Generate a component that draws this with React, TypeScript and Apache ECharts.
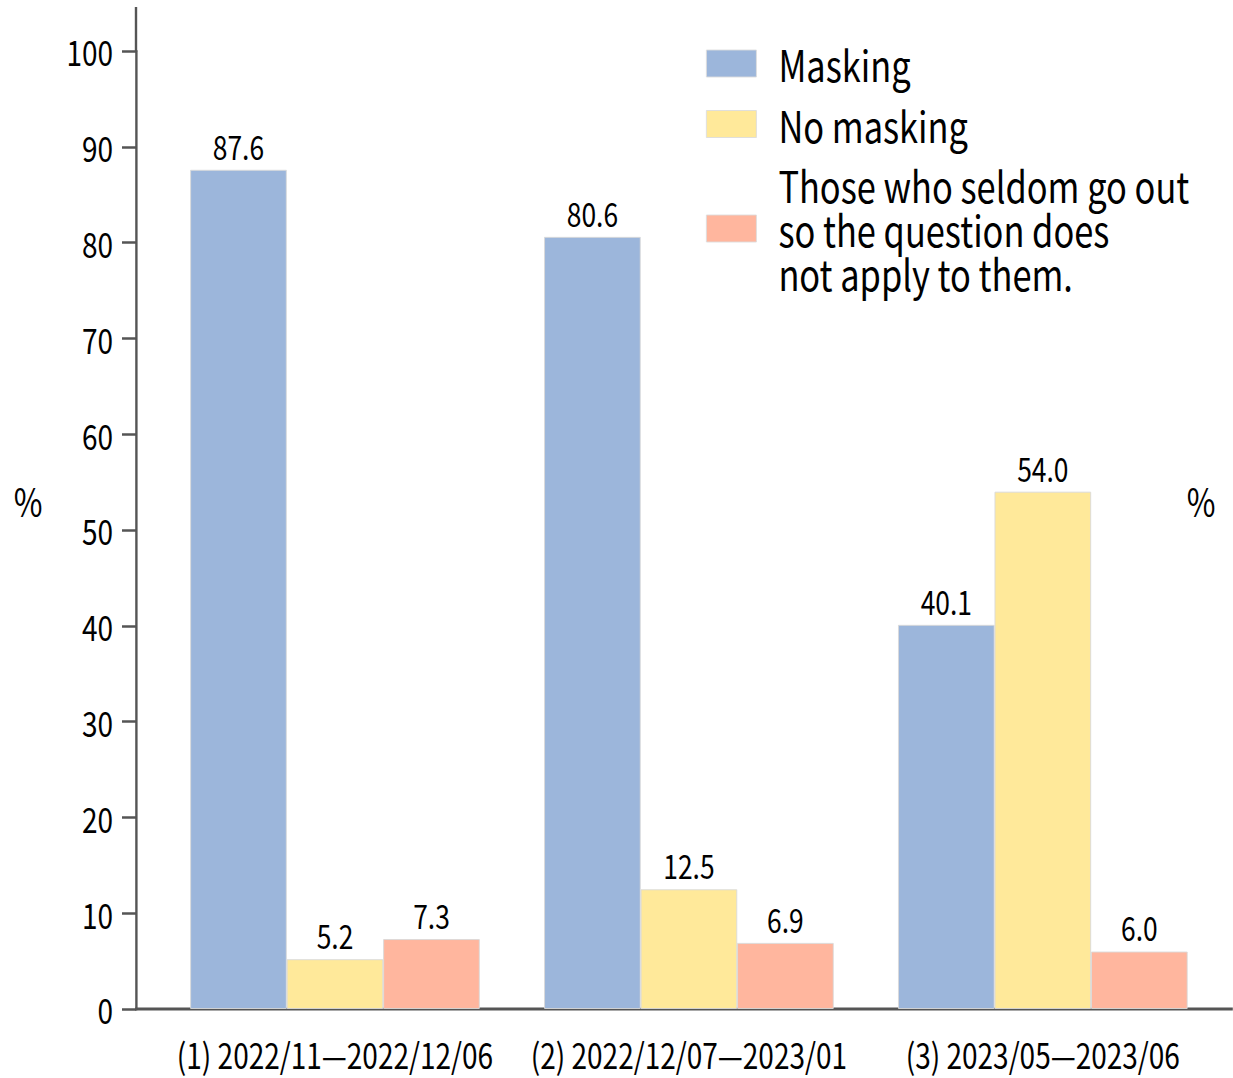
import React, { useEffect, useRef } from "react";
import * as echarts from "echarts";

const categories = ["(1) 2022/11—2022/12/06", "(2) 2022/12/07—2023/01", "(3) 2023/05—2023/06"];
const seriesNames = ["Masking", "No masking", "Those who seldom go out\nso the question does\nnot apply to them."];
const masking = [87.6, 80.6, 40.1];
const noMasking = [5.2, 12.5, 54.0];
const seldomOut = [7.3, 6.9, 6.0];
const colors = ["#9cb6db", "#ffe99a", "#ffb69e"];
const yTicks = [0, 10, 20, 30, 40, 50, 60, 70, 80, 90, 100];

const FONT = "Noto Sans CJK JP";
const S = 0.8; // horizontal condensation of the whole picture
const W = 1233;
const H = 1078;
const X = (v: number) => v / S;

export default function App() {
  const ref = useRef<HTMLDivElement>(null);
  useEffect(() => {
    document.body.style.margin = "0";
    const chart = echarts.init(ref.current!, null, { renderer: "svg" });
    const values = [masking, noMasking, seldomOut];
    chart.setOption({
      animation: false,
      textStyle: { fontFamily: FONT },
      grid: { left: X(158), right: X(13), top: 51, bottom: 69 },
      legend: {
        orient: "vertical",
        left: X(706) - 5,
        top: 36.5,
        itemWidth: X(50),
        itemHeight: 27,
        itemGap: 16.5,
        icon: "rect",
        selectedMode: false,
        data: seriesNames,
        itemStyle: { borderColor: "#dddddd", borderWidth: 1 },
        textStyle: { fontSize: 43, lineHeight: 44, color: "#000", fontFamily: FONT, padding: [0, 0, 0, X(22) - 5] },
      },
      xAxis: {
        type: "category",
        data: categories,
        axisLine: { show: false },
        axisTick: { show: false },
        axisLabel: { fontSize: 35, color: "#000", margin: 27, fontFamily: FONT, interval: 0 },
      },
      yAxis: {
        type: "value",
        min: yTicks[0],
        max: yTicks[yTicks.length - 1],
        interval: 10,
        offset: X(22),
        splitLine: { show: false },
        axisLine: { show: true, lineStyle: { color: "#555", width: 3 } },
        axisTick: { show: true, length: X(14), lineStyle: { color: "#555", width: 2.5 } },
        axisLabel: { fontSize: 35, color: "#000", margin: X(23), fontFamily: FONT },
      },
      series: values.map((v, i) => ({
        name: seriesNames[i],
        type: "bar",
        data: v,
        barWidth: X(96.5),
        barGap: "0%",
        itemStyle: { color: colors[i], borderColor: "#d9d9d9", borderWidth: 1 },
        label: {
          show: true,
          position: "top",
          distance: 8,
          fontSize: 33,
          color: "#000",
          fontFamily: FONT,
          formatter: (p: any) => Number(p.value).toFixed(1),
        },
      })),
      graphic: [
        { type: "line", shape: { x1: X(136), y1: 7, x2: X(136), y2: 52 }, style: { stroke: "#555", lineWidth: 3 } },
        { type: "line", shape: { x1: X(135), y1: 1009, x2: X(1233), y2: 1009 }, style: { stroke: "#555", lineWidth: 3 } },
        { type: "text", x: X(28), y: 500, style: { text: "%", fontSize: 39, fill: "#000", fontFamily: FONT, align: "center", verticalAlign: "middle" } },
        { type: "text", x: X(1201), y: 500, style: { text: "%", fontSize: 39, fill: "#000", fontFamily: FONT, align: "center", verticalAlign: "middle" } },
      ],
    });
    return () => chart.dispose();
  }, []);
  return (
    <div style={{ width: W, height: H, overflow: "hidden", position: "relative" }}>
      <div
        ref={ref}
        style={{ width: W / S, height: H, transform: `scaleX(${S})`, transformOrigin: "0 0", position: "absolute", left: 0, top: 0 }}
      />
    </div>
  );
}
